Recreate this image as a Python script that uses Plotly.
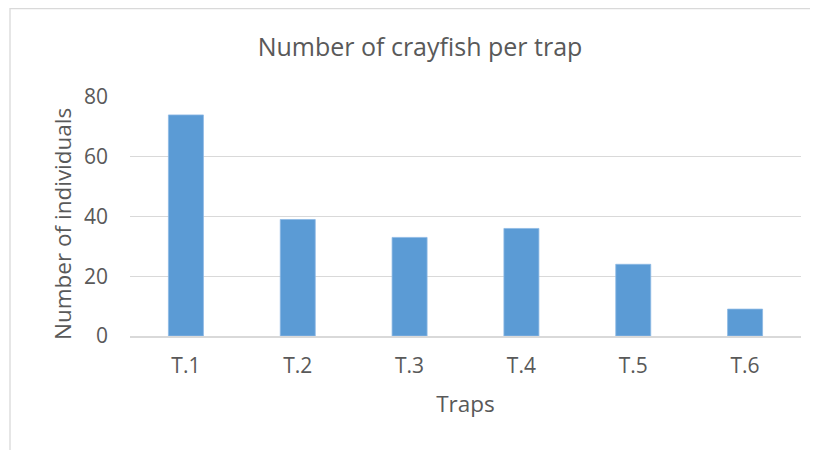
import plotly.graph_objects as go

categories = ["T.1", "T.2", "T.3", "T.4", "T.5", "T.6"]
values = [74, 39, 33, 36, 24, 9]
y_ticks = [0, 20, 40, 60, 80]

O = 8  # page body margin offset
W, H = 818 - O, 450 - O
# target screen positions of plot area
PX0, PX1, PY0, PY1 = 130, 801, 97, 336
L, R, T, B = PX0 - O, W - (PX1 - O), PY0 - O, H - (PY1 - O)

TXT = "#595959"
FONT = "Open Sans"

fig = go.Figure()
fig.add_trace(go.Bar(
    x=categories, y=values,
    marker=dict(color="#5B9BD5", line=dict(color="#8DB9E4", width=0.8)),
    width=0.313,
))

pw = W - L - R
ph = H - T - B
fig.add_shape(type="rect", xref="paper", yref="paper",
              x0=(10 - PX0) / pw, x1=(W + 40 - PX0) / pw,
              y0=-(H + 40 - PY1) / ph, y1=(PY1 - 8.7) / ph,
              line=dict(color="#D9D9D9", width=1.3), fillcolor="rgba(0,0,0,0)", layer="below")

fig.add_annotation(text="Number of individuals", textangle=-90,
                   xref="paper", yref="paper",
                   x=(62 - PX0) / pw, y=(PY1 - 224) / ph,
                   xanchor="center", yanchor="middle", showarrow=False,
                   font=dict(size=22.5, color=TXT, family=FONT))

fig.update_layout(
    width=W, height=H,
    margin=dict(l=L, r=R, t=T, b=B),
    paper_bgcolor="white", plot_bgcolor="white",
    font=dict(family=FONT, color=TXT),
    showlegend=False,
    title=dict(text="Number of crayfish per trap", font=dict(size=25, color=TXT, family=FONT),
               x=(420 - O) / W, xanchor="center", xref="container",
               y=1 - (47 - O) / H, yanchor="middle", yref="container"),
    xaxis=dict(showgrid=False, showline=True, linecolor="#D9D9D9", linewidth=1.5,
               tickfont=dict(size=21, color=TXT), ticks="", ticklabelstandoff=10,
               title=dict(text="Traps", font=dict(size=22.5, color=TXT), standoff=18)),
    yaxis=dict(range=[0, 80], tickvals=y_ticks, showgrid=True, gridcolor="#D9D9D9", gridwidth=1.3,
               zeroline=False, showline=False, ticks="",
               tickfont=dict(size=21, color=TXT), ticklabelstandoff=21),
)

fig.write_html("out.html")
